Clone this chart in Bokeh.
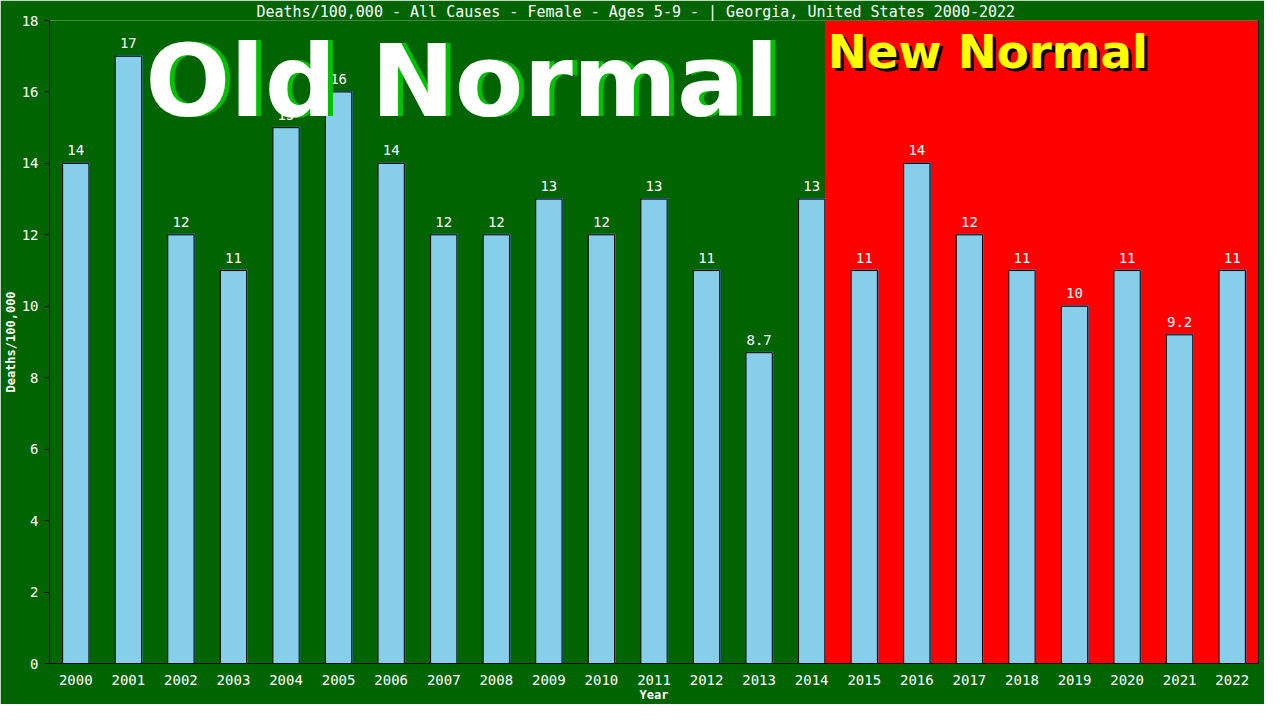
from bokeh.plotting import figure
from bokeh.models import FactorRange, Range1d, ColumnDataSource, LinearAxis, FixedTicker
from bokeh.transform import dodge
from bokeh.embed import file_html
from bokeh.resources import INLINE
from bokeh.core.properties import value

years = [str(y) for y in range(2000, 2023)]
deaths = [14, 17, 12, 11, 15, 16, 14, 12, 12, 13, 12, 13, 11, 8.7, 13,
          11, 14, 12, 11, 10, 11, 9.2, 11]
bar_labels = [f"{v:g}" for v in deaths]
y_ticks = list(range(0, 19, 2))
title_text = "Deaths/100,000 - All Causes - Female - Ages 5-9 -  | Georgia, United States 2000-2022"
y_label = "Deaths/100,000"
x_label = "Year"
old_text = "Old Normal"
new_text = "New Normal"
new_start = "2014"
new_end = "2022"

GREEN = "#006400"
RED = "#ff0000"
BAR = "#87ceeb"
MONO = "DejaVu Sans Mono"
SANS = "DejaVu Sans"

px_y = 18 / 642.0
source = ColumnDataSource(dict(
    year=years, deaths=deaths, label=bar_labels,
    shadow_top=[v + px_y for v in deaths],
))
zone = ColumnDataSource(dict(left=[new_start], right=[new_end], bottom=[0], top=[18]))

p = figure(width=1264, height=704, output_backend="svg", toolbar_location=None,
           x_range=FactorRange(factors=years, range_padding=0),
           y_range=Range1d(0, 18),
           min_border_left=43, min_border_right=6, min_border_top=17, min_border_bottom=35,
           title=title_text)
p.background_fill_color = GREEN
p.border_fill_color = GREEN
p.outline_line_color = None
p.xgrid.grid_line_color = None
p.ygrid.grid_line_color = None

p.title.align = "left"
p.title.offset = 207
p.title.standoff = 0
p.title.text_color = "white"
p.title.text_font = MONO
p.title.text_font_size = "15px"
p.title.text_font_style = "normal"

# red "new normal" zone
p.quad(left=dodge("left", 0.25, range=p.x_range), right=dodge("right", 0.5, range=p.x_range),
       bottom="bottom", top="top", source=zone, fill_color=RED, line_color=None)

# shadow bars
p.vbar(x=dodge("year", 0.02, range=p.x_range), top="shadow_top", width=0.5, source=source,
       fill_color="#4682b4", line_color=None)
p.vbar(x="year", top="deaths", width=0.5, source=source,
       fill_color=BAR, line_color="black", line_width=1)
p.text(x="year", y="deaths", text="label", source=source, text_align="center",
       text_baseline="bottom", y_offset=-8, text_color="white",
       text_font=value(MONO), text_font_size="14px")

# axes
p.yaxis.ticker = FixedTicker(ticks=y_ticks)
p.yaxis.minor_tick_line_color = None
p.yaxis.major_tick_out = 5
p.yaxis.major_tick_in = 0
p.yaxis.major_label_standoff = 6
for ax in (p.xaxis, p.yaxis):
    ax.axis_line_color = "black"
    ax.major_tick_line_color = "black"
    ax.major_label_text_color = "white"
    ax.major_label_text_font = MONO
    ax.major_label_text_font_size = "14px"
    ax.axis_label_text_color = "white"
    ax.axis_label_text_font = MONO
    ax.axis_label_text_font_size = "12px"
    ax.axis_label_text_font_style = "bold"
p.xaxis.major_tick_line_color = None
p.xaxis.major_label_standoff = 5
p.yaxis.axis_label = y_label
p.xaxis.axis_label = x_label
p.yaxis.axis_label_standoff = 1
p.xaxis.axis_label_standoff = 0

right_axis = LinearAxis(axis_line_color="black", ticker=FixedTicker(ticks=[]),
                        major_tick_line_color=None, minor_tick_line_color=None,
                        major_label_text_color=None, major_tick_out=0, minor_tick_out=0)
p.add_layout(right_axis, "right")

# big texts, drawn last
big = dict(text_font=value(SANS), text_font_style="bold", text_baseline="middle", level="overlay")
p.text(x=["2001"], y=[16.29], text=[old_text], x_offset=22, text_color="#00c000",
       text_font_size="75pt", **big)
p.text(x=["2001"], y=[16.29], text=[old_text], x_offset=17, text_color="white",
       text_font_size="75pt", **big)
p.text(x=["2014"], y=[17.12], text=[new_text], x_offset=19, y_offset=3, text_color="black",
       text_font_size="35pt", **big)
p.text(x=["2014"], y=[17.12], text=[new_text], x_offset=16, text_color="#ffff00",
       text_font_size="35pt", **big)

open("out.html", "w").write(file_html(p, INLINE))
